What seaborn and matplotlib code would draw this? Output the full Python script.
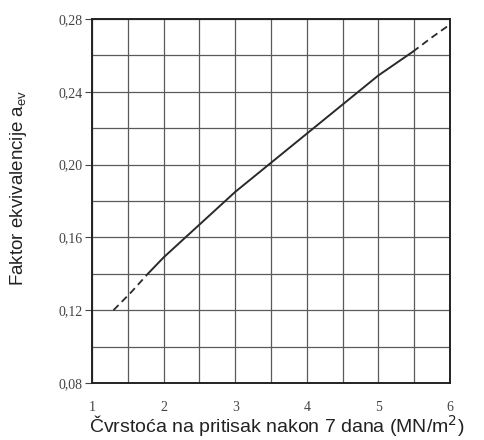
import matplotlib
matplotlib.use("Agg")
import matplotlib.pyplot as plt
import seaborn as sns
import pandas as pd
from matplotlib.ticker import FixedLocator, MultipleLocator, FuncFormatter

# Data
strength_low = [1.3, 1.55, 1.78]
factor_low = [0.120, 0.130, 0.140]
strength_mid = [1.78, 2.0, 2.5, 3.0, 3.5, 4.0, 4.5, 5.0, 5.48]
factor_mid = [0.140, 0.149, 0.167, 0.185, 0.201, 0.217, 0.233, 0.249, 0.262]
strength_high = [5.48, 5.75, 6.0]
factor_high = [0.262, 0.270, 0.277]

x_ticks = [1, 2, 3, 4, 5, 6]
y_ticks = [0.08, 0.12, 0.16, 0.20, 0.24, 0.28]

sns.set_style("white")
fig = plt.figure(figsize=(4.84, 4.40), dpi=100)
ax = fig.add_axes([92/484, 1-383/440, (450-92)/484, (383-19)/440])

ink = "#2a2a2a"
df_mid = pd.DataFrame({"x": strength_mid, "y": factor_mid})
df_low = pd.DataFrame({"x": strength_low, "y": factor_low})
df_high = pd.DataFrame({"x": strength_high, "y": factor_high})
sns.lineplot(data=df_mid, x="x", y="y", ax=ax, color=ink, lw=1.4, estimator=None, sort=False)
sns.lineplot(data=df_low, x="x", y="y", ax=ax, color=ink, lw=1.3, estimator=None, sort=False,
             linestyle=(0, (4, 2.5)))
sns.lineplot(data=df_high, x="x", y="y", ax=ax, color=ink, lw=1.3, estimator=None, sort=False,
             linestyle=(0, (4, 2.5)))

ax.set_xlim(1, 6)
ax.set_ylim(0.08, 0.28)
ax.xaxis.set_major_locator(FixedLocator(x_ticks))
ax.yaxis.set_major_locator(FixedLocator(y_ticks))
ax.xaxis.set_minor_locator(MultipleLocator(0.5))
ax.yaxis.set_minor_locator(MultipleLocator(0.02))
ax.yaxis.set_major_formatter(FuncFormatter(lambda v, p: f"{v:.2f}".replace(".", ",")))
ax.xaxis.set_major_formatter(FuncFormatter(lambda v, p: f"{int(round(v))}"))
ax.grid(True, which="both", color="#5a5a5a", lw=0.9)
ax.set_axisbelow(True)

for s in ax.spines.values():
    s.set_color("#222222")
    s.set_linewidth(1.4)

ax.tick_params(axis="y", which="major", labelsize=10, colors="#444444", length=5,
               direction="out", left=True, pad=2, width=0.8)
ax.tick_params(axis="x", which="major", labelsize=10, colors="#444444", length=0,
               bottom=False, pad=13)
ax.tick_params(axis="both", which="minor", length=0)
for lab in ax.get_xticklabels() + ax.get_yticklabels():
    lab.set_family("Liberation Serif")

ax.set_xlabel("Čvrstoća na pritisak nakon 7 dana (MN/m$^2$)", fontsize=14,
              family="Liberation Sans", color="#222222")
ax.xaxis.label.set_va("center")
ax.xaxis.set_label_coords(0.517, -0.117)
ax.set_ylabel("Faktor ekvivalencije a$_{\\mathregular{ev}}$", fontsize=13.5,
              family="Liberation Sans", color="#222222")
ax.yaxis.label.set_va("center")
ax.yaxis.set_label_coords(-0.205, 0.536)

fig.savefig("out.png", dpi=100)
